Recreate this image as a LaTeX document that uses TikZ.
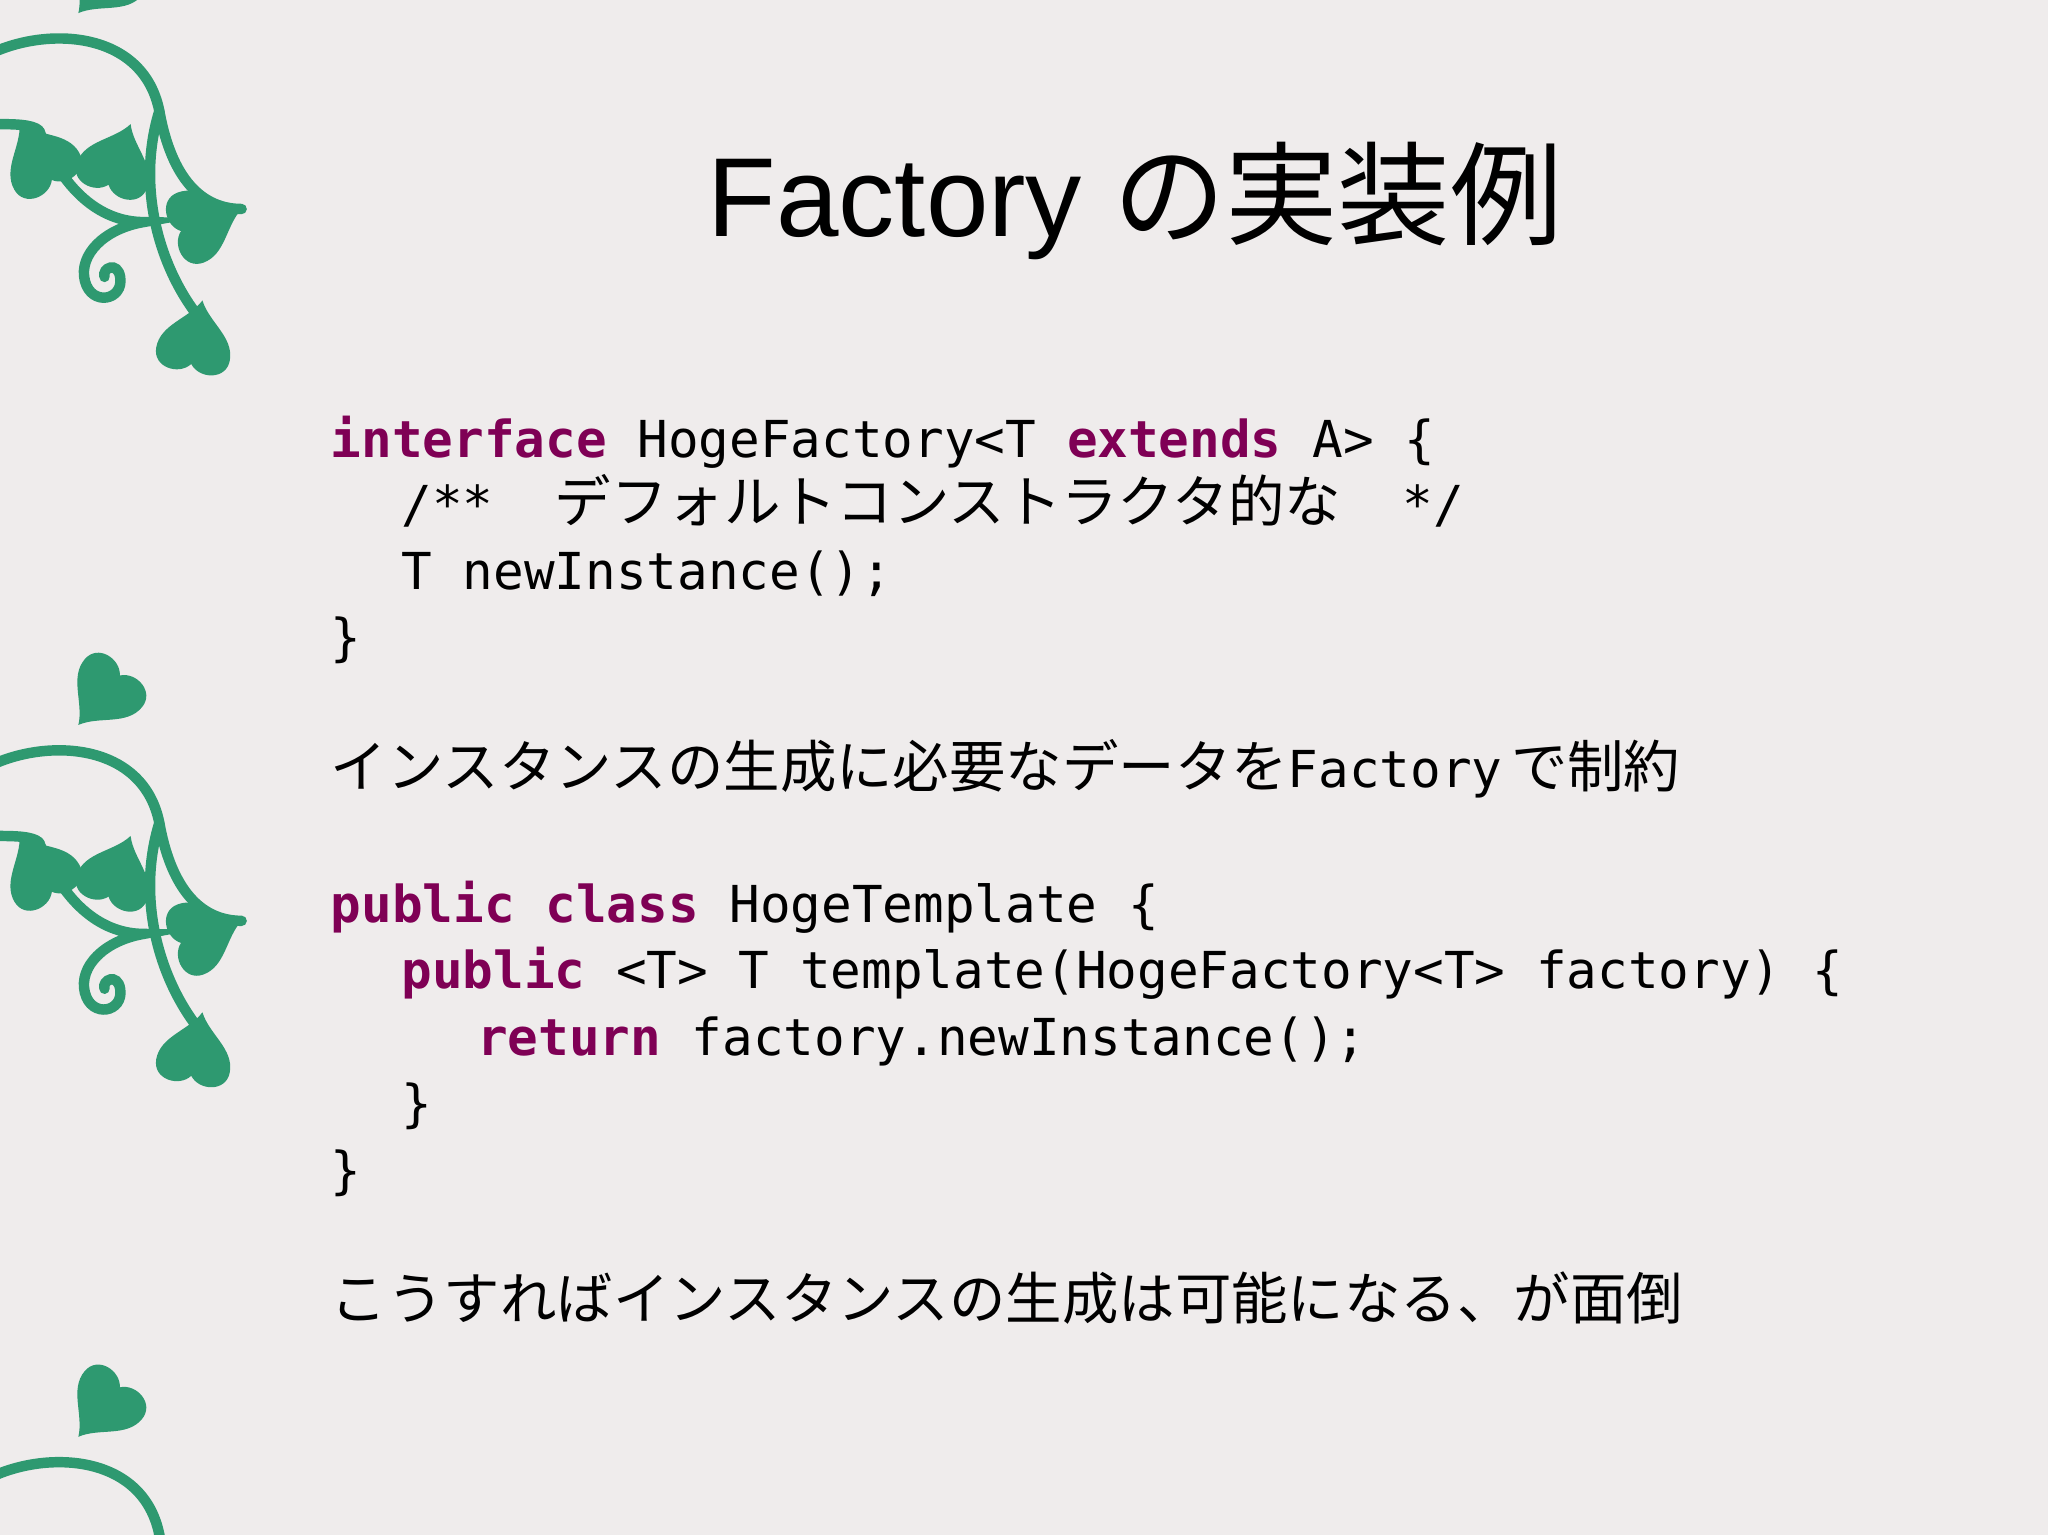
\documentclass[tikz,border=0pt]{standalone}
\usepackage{fontspec}
\setmainfont{Liberation Sans}
\newfontfamily\jpfont{Noto Sans CJK JP}
\newfontfamily\codefont{DejaVu Sans Mono}
\newcommand{\jp}[1]{{\jpfont\fontsize{21.6}{24}\selectfont #1}}
\newcommand{\kw}[1]{{\bfseries\color{kwc}#1}}
\definecolor{bgc}{HTML}{EFECEC}
\definecolor{kwc}{HTML}{7F0055}
\definecolor{leafc}{HTML}{2E9970}
\tikzset{
 code/.style={anchor=base west,inner sep=0,font=\codefont\fontsize{19.5}{22}\selectfont},
 stem/.style={draw=leafc,line width=4pt,line cap=round},
 leaf/.pic={\fill[leafc,scale=1.3] (0,0) .. controls (-6,-12) and (-22,-18) .. (-22,-32) .. controls (-22,-44) and (-6,-46) .. (0,-38) .. controls (6,-46) and (22,-44) .. (22,-32) .. controls (22,-18) and (6,-12) .. (0,0) -- cycle;},
 vine/.pic={
  \draw[stem] (-5,40) .. controls (40,20) and (110,25) .. (122,85) .. controls (130,130) and (150,160) .. (185,160);
  \draw[stem] (122,85) .. controls (105,140) and (120,200) .. (150,240);
  \draw[stem] (30,100) .. controls (50,150) and (80,170) .. (110,170) .. controls (80,175) and (60,195) .. (65,215) .. controls (70,235) and (95,230) .. (92,212) .. controls (90,200) and (78,205) .. (80,212);
  \draw[stem] (-5,95) .. controls (10,95) and (25,95) .. (30,100);
  \pic[rotate=-150] at (15,95) {leaf};
  \pic[rotate=160] at (100,95) {leaf};
  \pic[rotate=110] at (185,160) {leaf};
  \pic[rotate=170] at (155,230) {leaf};
  \pic[rotate=-40] at (60,10) {leaf};
 }
}
\begin{document}
\begin{tikzpicture}[x=0.5pt,y=-0.5pt]
\fill[bgc] (0,0) rectangle (1568,1175);
\useasboundingbox (0,0) rectangle (1568,1175);
\pic at (0,0) {vine};
\pic at (0,545) {vine};
\begin{scope}
\clip (0,0) rectangle (1568,1175);
\pic at (0,1090) {vine};
\end{scope}
\node[anchor=base,inner sep=0,font=\fontsize{43}{45}\selectfont] (title) at (869,181) {Factory \jp{\fontsize{43}{45}\selectfont の実装例}};
\node[code] (l1) at (253,350) {\kw{interface} HogeFactory<T \kw{extends} A> \{};
\node[code] (l2) at (307,400) {/**\ \ \jp{デフォルトコンストラクタ的な}\ \ */};
\node[code] (l3) at (307,451) {T newInstance();};
\node[code] (l4) at (253,502) {\}};
\node[code] (l5) at (253,603) {\jp{インスタンスの生成に必要なデータを}Factory\,\jp{で制約}};
\node[code] (l6) at (253,706) {\kw{public} \kw{class} HogeTemplate \{};
\node[code] (l7) at (307,757) {\kw{public} <T> T template(HogeFactory<T> factory) \{};
\node[code] (l8) at (365,808) {\kw{return} factory.newInstance();};
\node[code] (l9) at (307,859) {\}};
\node[code] (l10) at (253,910) {\}};
\node[code] (l11) at (253,1010) {\jp{こうすればインスタンスの生成は可能になる、が面倒}};
\end{tikzpicture}
\end{document}
